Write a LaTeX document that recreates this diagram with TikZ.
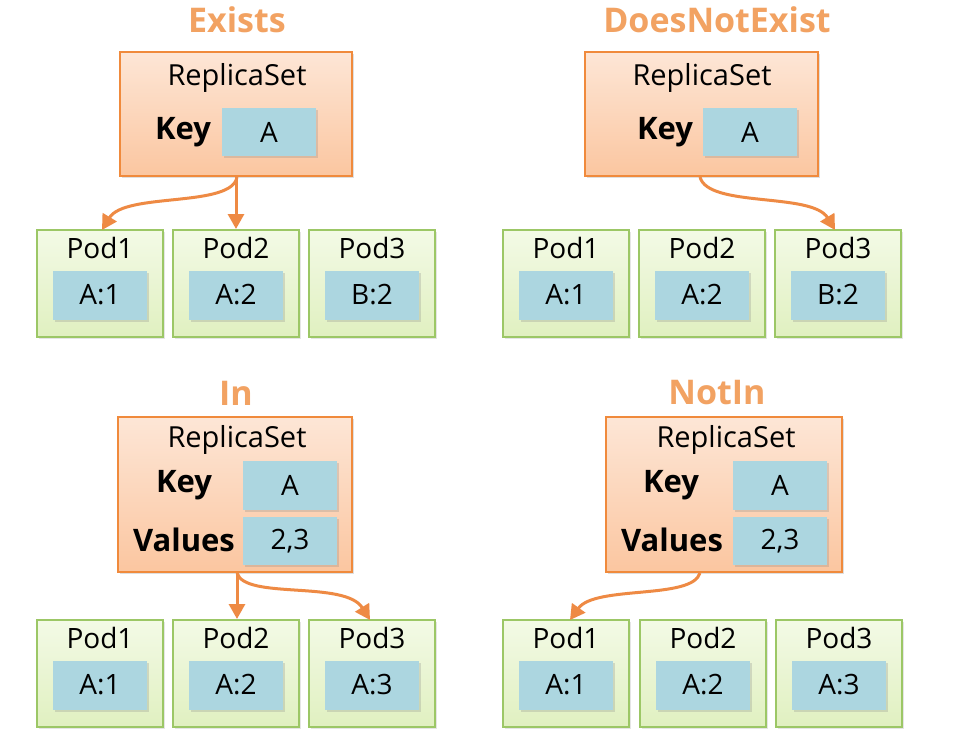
\documentclass[tikz,border=0pt]{standalone}
\usepackage{fontspec}
\setmainfont{Open Sans}
\usetikzlibrary{shadows,arrows.meta}
\definecolor{rsborder}{HTML}{F08A3C}
\definecolor{rstop}{HTML}{FDE6D6}
\definecolor{rsbot}{HTML}{FBC6A0}
\definecolor{titleor}{HTML}{F2A262}
\definecolor{valblue}{HTML}{ACD6E0}
\definecolor{podborder}{HTML}{9CC766}
\definecolor{podtop}{HTML}{F3FAE6}
\definecolor{podbot}{HTML}{E0F0C0}
\definecolor{arrowor}{HTML}{EE8A44}
\tikzset{
  x=1pt, y=-1pt,
  rsbox/.style={draw=rsborder, line width=2.5pt, top color=rstop, bottom color=rsbot,
    inner sep=0pt, drop shadow={opacity=0.25, shadow xshift=2pt, shadow yshift=-2pt}},
  podbox/.style={draw=podborder, line width=2pt, top color=podtop, bottom color=podbot,
    minimum width=126pt, minimum height=107pt, inner sep=0pt,
    drop shadow={opacity=0.2, shadow xshift=2pt, shadow yshift=-2pt}},
  valbox/.style={fill=valblue, minimum width=94pt, minimum height=49pt, inner sep=0pt,
    font=\fontsize{28}{32}\selectfont,
    drop shadow={opacity=0.25, shadow xshift=2pt, shadow yshift=-2pt}},
  txt/.style={inner sep=0pt, font=\fontsize{28}{32}\selectfont},
  keytxt/.style={inner sep=0pt, font=\fontsize{31}{35}\selectfont\bfseries},
  titletxt/.style={inner sep=0pt, text=titleor, font=\fontsize{34}{38}\selectfont\bfseries},
  conn/.style={draw=arrowor, line width=3pt, -{Triangle[length=15pt,width=16pt]}},
}
\newcommand\mypod[5]{%
  \node[podbox] (#1) at (#2,#3+53.5) {};
  \node[txt] (#1t) at (#2,#3+18) {#4};
  \node[valbox] (#1v) at (#2,#3+65) {#5};
}
\begin{document}
\begin{tikzpicture}
\useasboundingbox (0,0) rectangle (965,740);
\fill[white] (0,0) rectangle (965,740);

% ---------- Exists ----------
\node[titletxt] (t1) at (237,20) {Exists};
\node[rsbox, minimum width=232pt, minimum height=124pt] (rs1) at (236,114) {};
\node[txt, font=\fontsize{29}{33}\selectfont] (rs1t) at (237,78) {ReplicaSet};
\node[keytxt] (rs1k) at (183,132) {Key};
\node[valbox, minimum height=48pt] (rs1a) at (269,132) {A};
\mypod{p11}{100}{230}{Pod1}{A:1}
\mypod{p12}{236}{230}{Pod2}{A:2}
\mypod{p13}{372}{230}{Pod3}{B:2}
\coordinate (e1) at (237,177);
\coordinate (p11in) at (102,230);
\draw[conn] (rs1.south) -- (p12.north);
\draw[conn] (e1) .. controls (232,208) and (125,192) .. (p11in);

% ---------- DoesNotExist ----------
\node[titletxt] (t2) at (717,20) {DoesNotExist};
\node[rsbox, minimum width=233pt, minimum height=124pt] (rs2) at (701.5,114) {};
\node[txt, font=\fontsize{29}{33}\selectfont] (rs2t) at (702,78) {ReplicaSet};
\node[keytxt] (rs2k) at (665,132) {Key};
\node[valbox, minimum height=48pt] (rs2a) at (750,132) {A};
\mypod{p21}{566}{230}{Pod1}{A:1}
\mypod{p22}{702}{230}{Pod2}{A:2}
\mypod{p23}{838}{230}{Pod3}{B:2}
\coordinate (e2) at (700,177);
\coordinate (p23in) at (835,230);
\draw[conn] (e2) .. controls (708,208) and (812,192) .. (p23in);

% ---------- In ----------
\node[titletxt] (t3) at (236,393) {In};
\node[rsbox, minimum width=234pt, minimum height=155pt] (rs3) at (235,494.5) {};
\node[txt, font=\fontsize{29}{33}\selectfont] (rs3t) at (237,440) {ReplicaSet};
\node[keytxt] (rs3k) at (184,485) {Key};
\node[valbox] (rs3a) at (290,485) {A};
\node[keytxt] (rs3v) at (184,540) {Values};
\node[valbox, minimum height=48pt] (rs3b) at (290,541) {2,3};
\mypod{p31}{100}{620}{Pod1}{A:1}
\mypod{p32}{236}{620}{Pod2}{A:2}
\mypod{p33}{372}{620}{Pod3}{A:3}
\coordinate (e3) at (237,573);
\coordinate (p33in) at (370,620);
\draw[conn] (e3) -- (e3 |- p32.north);
\draw[conn] (e3) .. controls (245,600) and (345,580) .. (p33in);

% ---------- NotIn ----------
\node[titletxt] (t4) at (717,393) {NotIn};
\node[rsbox, minimum width=236pt, minimum height=155pt] (rs4) at (724,494.5) {};
\node[txt, font=\fontsize{29}{33}\selectfont] (rs4t) at (726,440) {ReplicaSet};
\node[keytxt] (rs4k) at (671,485) {Key};
\node[valbox] (rs4a) at (780,485) {A};
\node[keytxt] (rs4v) at (672,540) {Values};
\node[valbox, minimum height=48pt] (rs4b) at (780,541) {2,3};
\mypod{p41}{566}{620}{Pod1}{A:1}
\mypod{p42}{703}{620}{Pod2}{A:2}
\mypod{p43}{839}{620}{Pod3}{A:3}
\coordinate (e4) at (700,573);
\coordinate (p41in) at (570,620);
\draw[conn] (e4) .. controls (692,600) and (595,585) .. (p41in);
\end{tikzpicture}
\end{document}
